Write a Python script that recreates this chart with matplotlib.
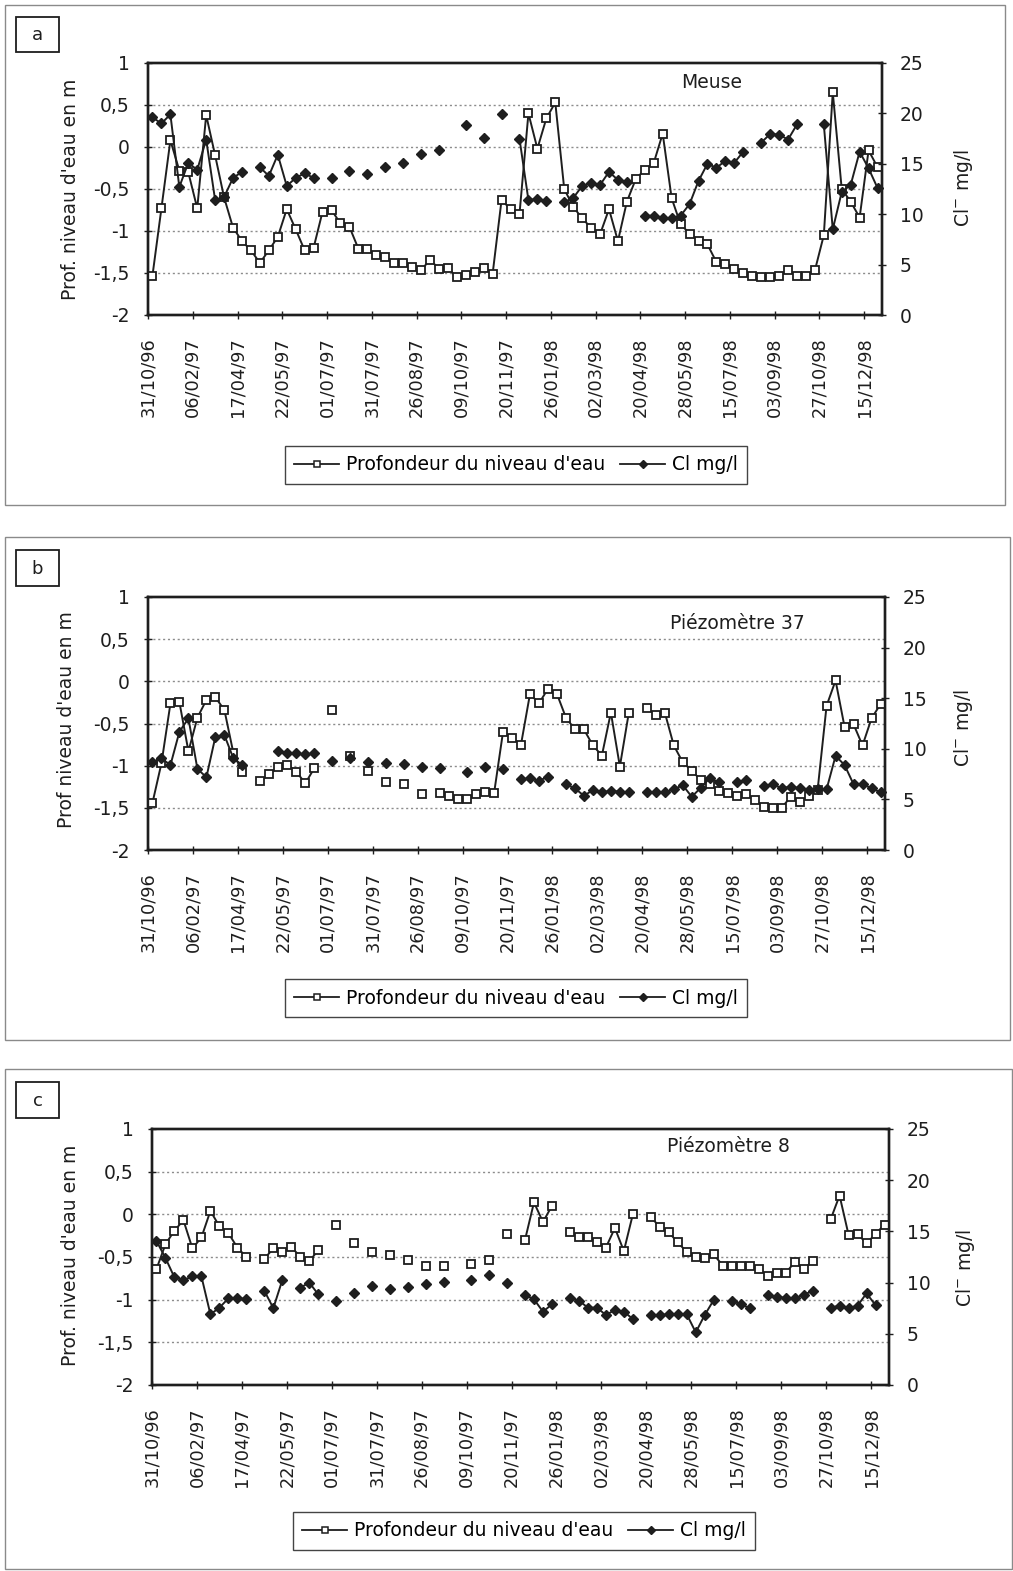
import numpy as np
import matplotlib
matplotlib.use("Agg")
import matplotlib.pyplot as plt
from matplotlib.lines import Line2D
from matplotlib.patches import Rectangle

# ---------------- data ----------------
N_CAT = 82
date_labels = ["31/10/96", "06/02/97", "17/04/97", "22/05/97", "01/07/97", "31/07/97",
               "26/08/97", "09/10/97", "20/11/97", "26/01/98", "02/03/98", "20/04/98",
               "28/05/98", "15/07/98", "03/09/98", "27/10/98", "15/12/98"]
label_idx = list(range(0, 81, 5))

depth_ticks = [1, 0.5, 0, -0.5, -1, -1.5, -2]
depth_tick_labels = ["1", "0,5", "0", "-0,5", "-1", "-1,5", "-2"]
cl_ticks = [0, 5, 10, 15, 20, 25]

n = None
# Panel a : Meuse
depth_a = [-1.53, -0.73, 0.08, -0.28, -0.30, -0.73, 0.38, -0.10, -0.60, -0.96,
           -1.12, -1.23, -1.38, -1.23, -1.07, -0.74, -0.98, -1.23, -1.20, -0.77,
           -0.75, -0.91, -0.95, -1.21, -1.21, -1.29, -1.31, -1.38, -1.38, -1.43,
           -1.47, -1.34, -1.45, -1.44, -1.55, -1.52, -1.49, -1.44, -1.51, -0.63,
           -0.74, -0.80, 0.40, -0.02, 0.34, 0.53, -0.50, -0.71, -0.85, -0.96,
           -1.04, -0.74, -1.12, -0.65, -0.38, -0.27, -0.19, 0.16, -0.61, -0.92,
           -1.03, -1.12, -1.16, -1.37, -1.39, -1.45, -1.50, -1.53, -1.55, -1.55,
           -1.54, -1.47, -1.53, -1.53, -1.47, -1.05, 0.65, -0.50, -0.65, -0.84,
           -0.04, -0.24]
cl_a = [19.6, 19.0, 19.9, 12.7, 15.1, 14.4, 17.4, 11.4, 11.7, 13.6,
        14.2, n, 14.65, 13.8, 15.9, 12.8, 13.6, 14.06, 13.6, n,
        13.6, n, 14.3, n, 14.0, n, 14.7, n, 15.05, n,
        16.0, n, 16.4, n, n, 18.8, n, 17.6, n, 19.9,
        n, 17.5, 11.4, 11.5, 11.3, n, 11.2, 11.6, 12.8, 13.1,
        12.9, 14.2, 13.4, 13.2, n, 9.85, 9.85, 9.65, 9.6, 9.85,
        11.0, 13.3, 15.0, 14.6, 15.3, 15.1, 16.2, n, 17.1, 17.95,
        17.9, 17.4, 18.9, n, n, 18.9, 8.5, 12.2, 12.9, 16.2,
        14.55, 12.6]

# Panel b : Piezometre 37
depth_b = [-1.44, -0.97, -0.26, -0.25, -0.83, -0.43, -0.22, -0.19, -0.34, -0.85,
           -1.08, n, -1.18, -1.10, -1.02, -0.99, -1.07, -1.21, -1.03, n,
           -0.34, n, -0.88, n, -1.06, n, -1.19, n, -1.22, n,
           -1.34, n, -1.33, -1.36, -1.40, -1.40, -1.34, -1.31, -1.33, -0.60,
           -0.67, -0.75, -0.15, -0.26, -0.09, -0.15, -0.43, -0.57, -0.57, -0.76,
           -0.88, -0.37, -1.01, -0.37, n, -0.32, -0.40, -0.37, -0.76, -0.96,
           -1.06, -1.17, -1.22, -1.30, -1.33, -1.36, -1.34, -1.41, -1.49, -1.50,
           -1.50, -1.37, -1.43, -1.36, -1.29, -0.29, 0.01, -0.54, -0.51, -0.76,
           -0.44, -0.27]
cl_b = [8.7, 9.05, 8.4, 11.7, 13.0, 8.0, 7.2, 11.2, 11.35, 9.05,
        8.4, n, n, n, 9.8, 9.54, 9.54, 9.44, 9.54, n,
        8.8, n, 9.05, n, 8.7, n, 8.55, n, 8.5, n,
        8.2, n, 8.1, n, n, 7.7, n, 8.2, n, 8.0,
        n, 7.0, 7.07, 6.84, 7.24, n, 6.48, 6.09, 5.36, 5.92,
        5.69, 5.86, 5.76, 5.69, n, 5.69, 5.69, 5.69, 6.0, 6.4,
        5.26, 6.15, 7.1, 6.7, n, 6.7, 6.9, n, 6.3, 6.5,
        6.1, 6.25, 6.1, 5.9, 6.0, 6.0, 9.3, 8.4, 6.5, 6.5,
        6.1, 5.7]

# Panel c : Piezometre 8
depth_c = [-0.64, -0.35, -0.19, -0.07, -0.40, -0.27, 0.04, -0.14, -0.22, -0.39,
           -0.50, n, -0.52, -0.40, -0.44, -0.38, -0.50, -0.55, -0.42, n,
           -0.12, n, -0.34, n, -0.44, n, -0.48, n, -0.54, n,
           -0.61, n, -0.60, n, n, -0.58, n, -0.54, n, -0.23,
           n, -0.30, 0.14, -0.09, 0.10, n, -0.21, -0.27, -0.27, -0.33,
           -0.39, -0.16, -0.43, 0.00, n, -0.03, -0.15, -0.21, -0.33, -0.44,
           -0.50, -0.51, -0.47, -0.60, -0.60, -0.60, -0.60, -0.64, -0.72, -0.69,
           -0.69, -0.56, -0.64, -0.55, n, -0.06, 0.22, -0.24, -0.23, -0.34,
           -0.23, -0.12]
cl_c = [14.06, 12.4, 10.5, 10.25, 10.6, 10.6, 6.9, 7.55, 8.46, 8.46,
        8.4, n, 9.2, 7.5, 10.25, n, 9.5, 10.0, 8.85, n,
        8.2, n, 8.95, n, 9.67, n, 9.34, n, 9.54, n,
        9.83, n, 10.1, n, n, 10.3, n, 10.74, n, 10.0,
        n, 8.8, 8.37, 7.16, 7.88, n, 8.46, 8.24, 7.55, 7.55,
        6.84, 7.32, 7.16, 6.45, n, 6.84, 6.84, 6.9, 6.9, 6.9,
        5.14, 6.84, 8.3, n, 8.2, 7.9, 7.5, n, 8.8, 8.6,
        8.5, 8.46, 8.8, 9.2, n, 7.55, 7.75, 7.5, 7.75, 8.95,
        7.8, n]

panel_letters = ["a", "b", "c"]
panel_titles = ["Meuse", "Piézomètre 37", "Piézomètre 8"]
left_labels = ["Prof. niveau d'eau en m", "Prof niveau d'eau en m", "Prof. niveau d'eau en m"]
right_label = "Cl$^{-}$ mg/l"
legend_labels = ["Profondeur du niveau d'eau", "Cl mg/l"]

# ---------------- layout / style ----------------
W, H = 1013, 1571
plt.rcParams['font.family'] = ['DejaVu Sans']
LC = "#1e1e1e"

layouts = [
    dict(plot=(148, 882, 63, 315), border=(5, 1005, 5, 505), lbox=(16, 59, 17, 52),
         title=(712, 83), ylab_l=(71, 189), ylab_r=(963, 188), legend=(516, 465)),
    dict(plot=(148, 885, 597, 850), border=(5, 1010, 537, 1040), lbox=(16, 59, 550, 586),
         title=(737, 623), ylab_l=(67, 720), ylab_r=(963, 728), legend=(516, 998)),
    dict(plot=(152, 889, 1129, 1385), border=(5, 1012, 1069, 1569), lbox=(16, 59, 1082, 1118),
         title=(728, 1146), ylab_l=(70, 1255), ylab_r=(965, 1268), legend=(524, 1531)),
]
depths = [depth_a, depth_b, depth_c]
cls = [cl_a, cl_b, cl_c]

fig = plt.figure(figsize=(W / 100, H / 100), dpi=100)
fig.patch.set_facecolor("white")


def fx(x):
    return x / W


def fy(y):
    return 1 - y / H


for k in range(3):
    L = layouts[k]
    l, r, t, b = L["plot"]
    # outer border
    bl, br, bt, bb = L["border"]
    fig.patches.append(Rectangle((fx(bl), fy(bb)), fx(br) - fx(bl), fy(bt) - fy(bb),
                                 transform=fig.transFigure, fill=False,
                                 edgecolor="#8a8a8a", lw=1.0, zorder=0))
    # letter box
    ll, lr, lt, lb = L["lbox"]
    fig.patches.append(Rectangle((fx(ll), fy(lb)), fx(lr) - fx(ll), fy(lt) - fy(lb),
                                 transform=fig.transFigure, fill=False,
                                 edgecolor=LC, lw=1.3, zorder=1))
    fig.text(fx((ll + lr) / 2), fy((lt + lb) / 2 + 1), panel_letters[k],
             ha="center", va="center", fontsize=13, color=LC)

    ax = fig.add_axes([fx(l), fy(b), (r - l) / W, (b - t) / H])
    xs = np.arange(N_CAT) + 0.5
    d = np.array(depths[k], dtype=float)
    c = np.array(cls[k], dtype=float)

    ax.plot(xs, d, color=LC, lw=1.4, marker="s", ms=5.6, mfc="white",
            mec=LC, mew=1.3, zorder=3, clip_on=False)
    ax.set_xlim(0, N_CAT)
    ax.set_ylim(-2, 1)
    ax.set_yticks(depth_ticks)
    ax.set_yticklabels(depth_tick_labels)
    ax.set_xticks(label_idx)
    ax.set_xticklabels(date_labels, rotation=90)
    for v in [0.5, 0, -0.5, -1, -1.5]:
        ax.axhline(v, color="#8c8c8c", lw=1.0, ls=(0, (1.5, 2.0)), zorder=1)
    ax.tick_params(axis="y", direction="inout", length=6, width=1.0,
                   labelsize=13.5, pad=10, colors=LC)
    ax.tick_params(axis="x", direction="inout", length=6, width=1.0,
                   labelsize=12.8, pad=13, colors=LC)
    for s in ax.spines.values():
        s.set_linewidth(1.7)
        s.set_color(LC)

    ax2 = ax.twinx()
    ax2.plot(xs, c, color=LC, lw=1.4, marker="D", ms=5.0, mfc=LC, mec=LC,
             zorder=4, clip_on=False)
    ax2.set_ylim(0, 25)
    ax2.set_yticks(cl_ticks)
    ax2.tick_params(axis="y", direction="inout", length=6, width=1.0,
                    labelsize=13.5, pad=10, colors=LC)
    for s in ax2.spines.values():
        s.set_linewidth(1.7)
        s.set_color(LC)

    # texts
    tx, ty = L["title"]
    fig.text(fx(tx), fy(ty), panel_titles[k], ha="center", va="center",
             fontsize=13.5, color=LC)
    lx, ly = L["ylab_l"]
    fig.text(fx(lx), fy(ly), left_labels[k], rotation=90, ha="center",
             va="center", fontsize=13.5, color=LC)
    rx, ry = L["ylab_r"]
    fig.text(fx(rx), fy(ry), right_label, rotation=90, ha="center",
             va="center", fontsize=13.5, color=LC)

    # legend
    h1 = Line2D([], [], color=LC, lw=1.3, marker="s", ms=4.5, mfc="white", mec=LC, mew=1.1)
    h2 = Line2D([], [], color=LC, lw=1.3, marker="D", ms=4.2, mfc=LC, mec=LC)
    gx, gy = L["legend"]
    leg = fig.legend([h1, h2], legend_labels, loc="center",
                     bbox_to_anchor=(fx(gx), fy(gy)), ncol=2, frameon=True,
                     fancybox=False, framealpha=1, edgecolor="#444444",
                     fontsize=13.5, handlelength=2.4, handletextpad=0.35,
                     columnspacing=0.8, borderpad=0.5)
    leg.get_frame().set_linewidth(1.0)

fig.savefig("out.png", dpi=100, facecolor="white")
